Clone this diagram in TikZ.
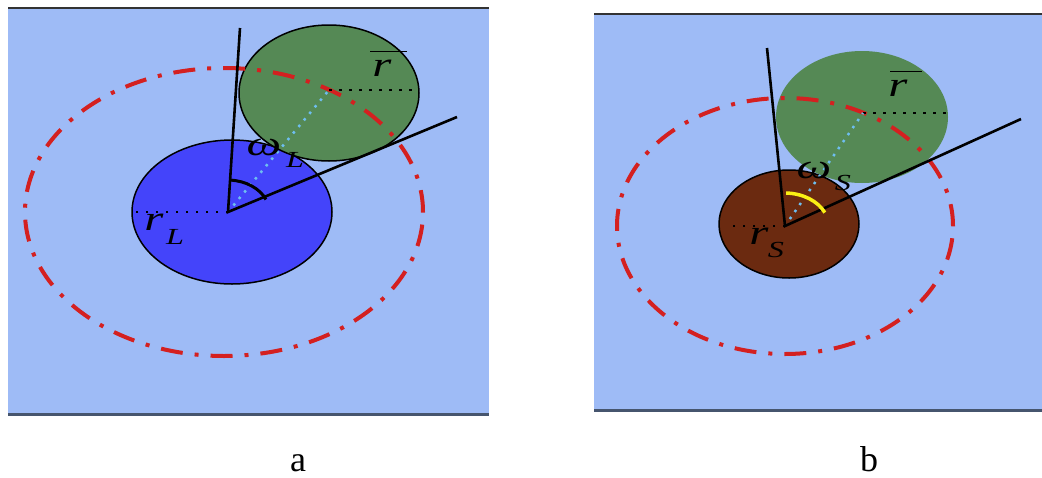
\documentclass[tikz,border=0pt]{standalone}
\usepackage{fontspec}
\setmainfont{Liberation Serif}
\definecolor{bgblue}{RGB}{158,187,246}
\definecolor{blueL}{RGB}{68,68,250}
\definecolor{greenL}{RGB}{85,137,85}
\definecolor{brownS}{RGB}{107,42,16}
\definecolor{redD}{RGB}{212,32,32}
\definecolor{edgeDark}{RGB}{70,85,110}
\definecolor{dotBlue}{RGB}{110,190,240}
\definecolor{arcYellow}{RGB}{250,240,20}
\tikzset{
  panelbg/.style={fill=bgblue, draw=none},
  topedge/.style={draw=black!80, line width=1.5pt},
  botedge/.style={draw=edgeDark, line width=3pt},
  redring/.style={draw=redD, line width=4pt, dash pattern=on 22pt off 12pt on 4pt off 12pt},
  arm/.style={draw=black, line width=2.6pt},
  blackdots/.style={draw=black, line width=2.5pt, dash pattern=on 2.5pt off 7.5pt},
  bluedots/.style={draw=dotBlue, line width=2.5pt, dash pattern=on 2.5pt off 6pt},
  biglab/.style={inner sep=0pt, font=\fontsize{35}{40}\selectfont\itshape, xscale=1.4},
  sublab/.style={inner sep=0pt, font=\fontsize{23}{28}\selectfont\itshape, xscale=1.4},
  caption/.style={inner sep=0pt, text depth=0pt, anchor=base, font=\fontsize{36}{42}\selectfont},
}
\begin{document}
\begin{tikzpicture}[x=1pt,y=1pt]
\useasboundingbox (0,0) rectangle (1042,-477);
\fill[white] (0,0) rectangle (1042,-477);
% ---------------- panel a ----------------
\fill[panelbg] (8,-8) rectangle (489,-414);
\draw[topedge] (8,-8) -- (489,-8);
\draw[botedge] (8,-414) -- (489,-414);
\coordinate (cA) at (228,-212);
\coordinate (gA) at (329,-90);
\coordinate (a1) at (240,-28);
\coordinate (a2) at (457,-117);
\coordinate (lA) at (132,-212);
\coordinate (rA) at (419,-90);
\draw[fill=blueL, draw=black, line width=1.5pt] (232,-212) ellipse [x radius=100pt, y radius=72pt];
\draw[fill=greenL, draw=black, line width=1.5pt] (329,-93) ellipse [x radius=90pt, y radius=68pt];
\draw[redring] (224,-212) ellipse [x radius=199pt, y radius=144pt];
\draw[blackdots] (cA) -- (lA);
\draw[blackdots] (gA) -- (rA);
\draw[bluedots] (cA) -- (gA);
\draw[arm] (a1) -- (cA) -- (a2);
\draw[black, line width=3pt] ([shift={(86:32pt)}]cA) arc [start angle=86, end angle=23, x radius=42pt, y radius=32pt];
\node[biglab] (wA) at (264,-147) {ω};
\node[sublab] (wAs) at (295,-160) {L};
\node[biglab] (rbA) at (382,-68) {r};
\draw[black, line width=1.8pt] ([xshift=-12pt,yshift=8pt]rbA.north) -- ([xshift=25pt,yshift=8pt]rbA.north);
\node[biglab] (rLA) at (154,-222) {r};
\node[sublab] (rLAs) at (175,-237) {L};
\node[caption] (capA) at (298,-471) {a};
% ---------------- panel b ----------------
\fill[panelbg] (594,-14) rectangle (1042,-410);
\draw[topedge] (594,-14) -- (1042,-14);
\draw[botedge] (594,-410) -- (1042,-410);
\coordinate (cB) at (785,-226);
\coordinate (gB) at (863,-113);
\coordinate (b1) at (767,-48);
\coordinate (b2) at (1021,-119);
\coordinate (lB) at (727,-226);
\coordinate (rB) at (948,-113);
\fill[greenL] (862,-117) ellipse [x radius=86pt, y radius=66pt];
\draw[fill=brownS, draw=black, line width=1.5pt] (789,-224) ellipse [x radius=70pt, y radius=54pt];
\draw[redring] (785,-226) ellipse [x radius=168pt, y radius=128pt];
\draw[blackdots] (cB) -- (lB);
\draw[blackdots] (gB) -- (rB);
\draw[bluedots] (cB) -- (gB);
\draw[arm] (b1) -- (cB) -- (b2);
\draw[arcYellow, line width=3.5pt] ([shift={(88:33pt)}]cB) arc [start angle=88, end angle=24, x radius=44pt, y radius=33pt];
\node[biglab] (wB) at (814,-170) {ω};
\node[sublab] (wBs) at (843,-183) {S};
\node[biglab] (rbB) at (898,-88) {r};
\draw[black, line width=1.8pt] ([xshift=-8pt,yshift=8pt]rbB.north) -- ([xshift=24pt,yshift=8pt]rbB.north);
\node[biglab] (rSB) at (759,-236) {r};
\node[sublab] (rSBs) at (776,-250) {S};
\node[caption] (capB) at (869,-471) {b};
\end{tikzpicture}
\end{document}
